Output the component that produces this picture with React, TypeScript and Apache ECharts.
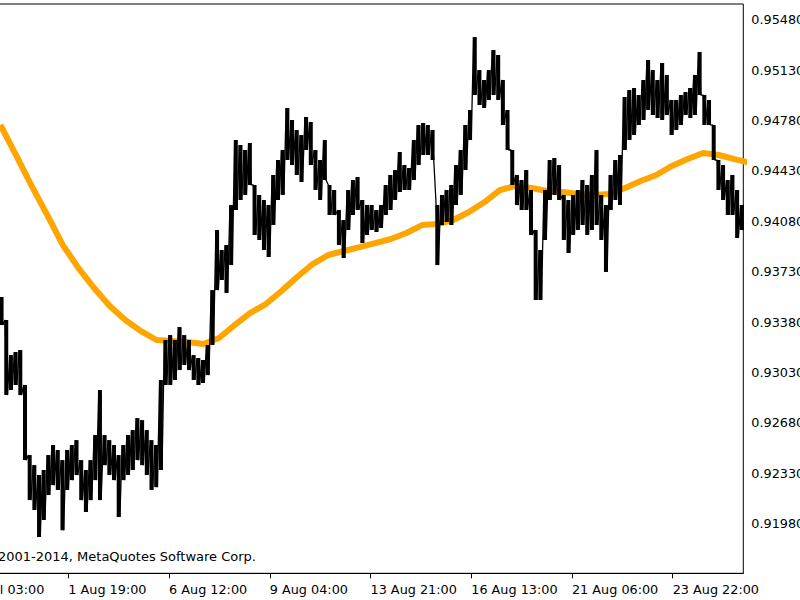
import React, { useEffect, useRef } from "react";
import * as echarts from "echarts";

// Time labels on the x axis and the bar index (hourly bars) where each sits
const timeLabels = ["30 Jul 03:00", "1 Aug 19:00", "6 Aug 12:00", "9 Aug 04:00", "13 Aug 21:00", "16 Aug 13:00", "21 Aug 06:00", "23 Aug 22:00"];
const labelBars = [0, 64.5, 129, 193.5, 258, 322.5, 387, 451.5];

// Price tick labels on the right axis
const priceTicks = [0.9198, 0.9233, 0.9268, 0.9303, 0.9338, 0.9373, 0.9408, 0.9443, 0.9478, 0.9513, 0.9548];

// Price band (high / low) sampled every 3 hourly bars starting at bar 21
const barStart = 21;
const barStep = 3;
const highs = [
  0.93554, 0.93394, 0.93150, 0.93171, 0.93185, 0.92942, 0.92455, 0.92385, 0.92316, 0.92351,
  0.92455, 0.92525, 0.92490, 0.92420, 0.92490, 0.92525, 0.92559, 0.92420, 0.92351, 0.92420,
  0.92594, 0.92907, 0.92594, 0.92559, 0.92525, 0.92455, 0.92525, 0.92594, 0.92629, 0.92712,
  0.92698, 0.92629, 0.92559, 0.92525, 0.92977, 0.93255, 0.93289, 0.93255, 0.93345, 0.93289,
  0.93255, 0.93150, 0.93130, 0.93116, 0.93220, 0.93602, 0.94020, 0.93881, 0.93915, 0.94193,
  0.94645, 0.94611, 0.94576, 0.94625, 0.94333, 0.94263, 0.94228, 0.94193, 0.94402, 0.94506,
  0.94576, 0.94868, 0.94785, 0.94715, 0.94680, 0.94806, 0.94771, 0.94576, 0.94506, 0.94645,
  0.94333, 0.94298, 0.94159, 0.94089, 0.94298, 0.94367, 0.94388, 0.94228, 0.94193, 0.94193,
  0.94159, 0.94193, 0.94333, 0.94402, 0.94437, 0.94562, 0.94472, 0.94451, 0.94645, 0.94750,
  0.94764, 0.94750, 0.94715, 0.94193, 0.94263, 0.94298, 0.94333, 0.94472, 0.94576, 0.94750,
  0.94854, 0.95362, 0.95132, 0.95063, 0.95132, 0.95271, 0.95237, 0.95063, 0.94854, 0.94576,
  0.94402, 0.94367, 0.94437, 0.94298, 0.94020, 0.93881, 0.94298, 0.94506, 0.94520, 0.94472,
  0.94263, 0.94228, 0.94263, 0.94298, 0.94367, 0.94333, 0.94402, 0.94576, 0.94263, 0.94193,
  0.94402, 0.94506, 0.94541, 0.94945, 0.94993, 0.95007, 0.94958, 0.95063, 0.95202, 0.95132,
  0.95063, 0.95181, 0.95098, 0.94924, 0.94924, 0.94958, 0.94979, 0.95007, 0.95098, 0.95257,
  0.94958, 0.94924, 0.94750, 0.94506, 0.94472, 0.94367, 0.94402, 0.94298, 0.94193,
];
const lows = [
  0.93359, 0.92872, 0.92907, 0.92942, 0.92872, 0.92420, 0.92142, 0.92073, 0.91885, 0.92003,
  0.92177, 0.92246, 0.92212, 0.91933, 0.92212, 0.92281, 0.92316, 0.92142, 0.92059, 0.92142,
  0.92281, 0.92142, 0.92385, 0.92316, 0.92281, 0.92024, 0.92281, 0.92316, 0.92351, 0.92420,
  0.92385, 0.92316, 0.92212, 0.92232, 0.92351, 0.92942, 0.92942, 0.92977, 0.93046, 0.93081,
  0.93046, 0.92977, 0.92942, 0.92956, 0.93011, 0.93220, 0.93602, 0.93672, 0.93582, 0.93776,
  0.94159, 0.94228, 0.94263, 0.94333, 0.93985, 0.93950, 0.93881, 0.93832, 0.94054, 0.94228,
  0.94263, 0.94506, 0.94472, 0.94402, 0.94353, 0.94576, 0.94472, 0.94298, 0.94228, 0.94367,
  0.94124, 0.94124, 0.93915, 0.93825, 0.94020, 0.94124, 0.94159, 0.93929, 0.93985, 0.94020,
  0.94006, 0.94034, 0.94124, 0.94159, 0.94228, 0.94284, 0.94298, 0.94298, 0.94367, 0.94472,
  0.94541, 0.94541, 0.94506, 0.93776, 0.94054, 0.94075, 0.94054, 0.94193, 0.94263, 0.94437,
  0.94645, 0.94958, 0.94889, 0.94868, 0.94924, 0.94958, 0.94924, 0.94750, 0.94576, 0.94333,
  0.94193, 0.94159, 0.94159, 0.93985, 0.93533, 0.93533, 0.93950, 0.94228, 0.94263, 0.94228,
  0.93950, 0.93860, 0.93985, 0.94020, 0.94054, 0.93985, 0.94020, 0.94054, 0.93950, 0.93728,
  0.94159, 0.94228, 0.94193, 0.94576, 0.94645, 0.94680, 0.94750, 0.94785, 0.94854, 0.94819,
  0.94799, 0.94785, 0.94819, 0.94680, 0.94715, 0.94750, 0.94819, 0.94799, 0.94819, 0.94958,
  0.94750, 0.94750, 0.94506, 0.94298, 0.94228, 0.94124, 0.94124, 0.93964, 0.94020,
];

// Moving average, sampled every 10 bars starting at bar 21
const maStart = 21;
const maStep = 10;
const maValues = [
  0.94750, 0.94541, 0.94326, 0.94124, 0.93915, 0.93755, 0.93616, 0.93491, 0.93394, 0.93317,
  0.93255, 0.93248, 0.93241, 0.93227, 0.93269, 0.93359, 0.93443, 0.93505, 0.93596, 0.93693,
  0.93783, 0.93846, 0.93874, 0.93901, 0.93929, 0.93957, 0.93999, 0.94054, 0.94061, 0.94089,
  0.94145, 0.94214, 0.94298, 0.94326, 0.94312, 0.94291, 0.94284, 0.94270, 0.94263, 0.94270,
  0.94312, 0.94360, 0.94402, 0.94465, 0.94513, 0.94555, 0.94541, 0.94513, 0.94486,
];

const FONT = "DejaVu Sans";
const FS = 12.8;

export default function App() {
  const ref = useRef<HTMLDivElement>(null);

  useEffect(() => {
    if (!ref.current) return;
    const chart = echarts.init(ref.current, undefined, { renderer: "svg" });

    const priceData: number[][] = [];
    highs.forEach((h, i) => {
      const t = barStart + i * barStep;
      priceData.push([t, h]);
      priceData.push([t + barStep / 2, lows[i]]);
    });
    const rangeData = highs.map((h, i) => [barStart + i * barStep + barStep / 4, h, lows[i]]);
    const maData = maValues.map((v, i) => [maStart + i * maStep, v]);

    const labelFor = (v: number) => {
      let best = 0;
      let d = Infinity;
      labelBars.forEach((b, i) => {
        if (Math.abs(b - v) < d) {
          d = Math.abs(b - v);
          best = i;
        }
      });
      return d < 0.5 ? timeLabels[best] : "";
    };

    chart.setOption({
      animation: false,
      backgroundColor: "#ffffff",
      grid: {
        left: -32.4,
        right: 56.7,
        top: 4,
        bottom: 26.7,
        show: true,
        borderColor: "#000000",
        borderWidth: 1,
        backgroundColor: "transparent",
        containLabel: false,
        outerBoundsMode: "none",
      },
      xAxis: {
        type: "value",
        min: 0,
        max: 496.7,
        interval: 64.5,
        position: "bottom",
        axisLine: { show: true, lineStyle: { color: "#000", width: 1 } },
        axisTick: {
          show: true,
          inside: false,
          length: 5,
          lineStyle: { color: "#000", width: 1 },
          customValues: labelBars,
        },
        axisLabel: {
          show: true,
          customValues: labelBars,
          align: "left",
          margin: 9.5,
          color: "#000",
          fontFamily: FONT,
          fontSize: FS,
          formatter: (v: number) => labelFor(v),
        },
        splitLine: { show: false },
      },
      yAxis: {
        type: "value",
        position: "right",
        min: 0.91633,
        max: 0.95591,
        scale: true,
        axisLine: { show: true, lineStyle: { color: "#000", width: 1 } },
        axisTick: {
          show: true,
          inside: false,
          length: 5,
          lineStyle: { color: "#000", width: 1 },
          customValues: priceTicks,
        },
        axisLabel: {
          show: true,
          customValues: priceTicks,
          margin: 8,
          color: "#000",
          fontFamily: FONT,
          fontSize: FS,
          formatter: (v: number) => v.toFixed(5),
        },
        splitLine: { show: false },
      },
      graphic: [
        {
          type: "text",
          x: 256,
          y: 556,
          silent: true,
          style: {
            text: "© 2001-2014, MetaQuotes Software Corp.",
            fill: "#000",
            fontFamily: FONT,
            fontSize: 13,
            align: "right",
            verticalAlign: "middle",
          },
        },
      ],
      series: [
        {
          type: "line",
          data: maData,
          showSymbol: false,
          clip: true,
          silent: true,
          z: 2,
          lineStyle: { color: "#ffa500", width: 6 },
        },
        {
          type: "custom",
          data: rangeData,
          clip: true,
          silent: true,
          z: 3,
          encode: { x: 0, y: [1, 2] },
          renderItem: (_params: any, api: any) => {
            const top = api.coord([api.value(0), api.value(1)]);
            const bot = api.coord([api.value(0), api.value(2)]);
            return {
              type: "rect",
              shape: { x: top[0] - 2, y: top[1], width: 4, height: bot[1] - top[1] },
              style: { fill: "#000000" },
            };
          },
        },
        {
          type: "line",
          data: priceData,
          showSymbol: false,
          clip: true,
          silent: true,
          z: 4,
          lineStyle: { color: "#000000", width: 1.3, join: "bevel" },
        },
      ],
    });

    return () => {
      chart.dispose();
    };
  }, []);

  return (
    <div
      ref={ref}
      style={{ position: "fixed", left: 0, top: 0, width: 800, height: 600, background: "#fff" }}
    />
  );
}
